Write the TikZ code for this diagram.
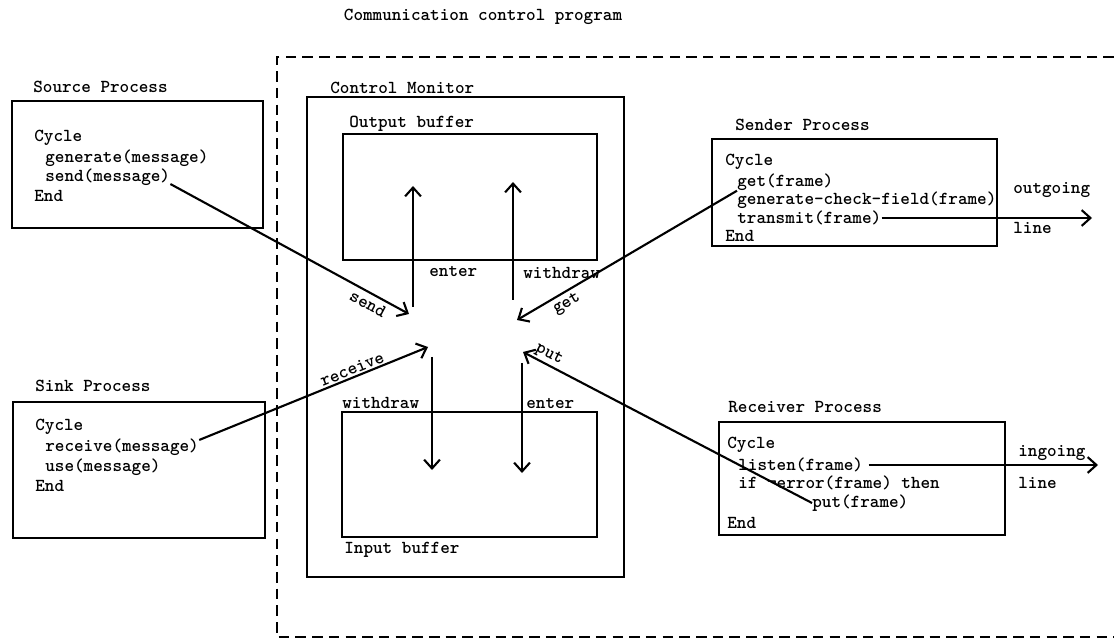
\documentclass[tikz,border=0pt]{standalone}
\usepackage{fontspec}
\usepackage{tikz}
\usetikzlibrary{arrows.meta}

\begin{document}
\begin{tikzpicture}[x=0.02cm, y=-0.02cm,
    txt/.style={font=\ttfamily\bfseries\fontsize{10.4}{12}\selectfont, inner sep=0, anchor=west},
    lbl/.style={font=\ttfamily\bfseries\fontsize{10.4}{12}\selectfont, inner sep=0},
    box/.style={line width=1.1pt},
    arr/.style={line width=1.2pt, -{Straight Barb[length=5pt, width=9pt]}}]
  \useasboundingbox (0,0) rectangle (1114,644);
  \node [lbl] (title) at (483,17) {Communication control program};
  \draw [line width=1.2pt, dash pattern=on 6pt off 3.5pt] (1114,57) -- (277,57) -- (277,637) -- (1114,637);

  % source and sink
  \node [txt] (srcname) at (33,87) {Source Process};
  \draw [box] (12,101) rectangle (263,228);
  \node [txt] (src1) at (34,138) {Cycle};
  \node [txt] (src2) at (45,158) {generate(message)};
  \node [txt] (snd) at (45,177) {send(message)};
  \node [txt] (src4) at (34,196) {End};

  \node [txt] (sinkname) at (35,386) {Sink Process};
  \draw [box] (13,402) rectangle (265,538);
  \node [txt] (sink1) at (35,427) {Cycle};
  \node [txt] (rcv) at (45,447) {receive(message)};
  \node [txt] (sink3) at (45,467) {use(message)};
  \node [txt] (sink4) at (35,486) {End};

  % monitor
  \node [txt] (monname) at (330,88) {Control Monitor};
  \draw [box] (307,97) rectangle (624,577);
  \node [txt] (outname) at (349,124) {Output buffer};
  \draw [box] (343,134) rectangle (597,260);
  \draw [box] (342,412) rectangle (597,537);
  \node [txt] (inname) at (344,550) {Input buffer};

  \coordinate (oenter) at (413,307);
  \coordinate (oenterend) at (413,186);
  \coordinate (owdr) at (513,300);
  \coordinate (owdrend) at (513,182);
  \draw [arr] (oenter) -- (oenterend);
  \draw [arr] (owdr) -- (owdrend);
  \node [txt] (oenterlbl) at (429,271) {enter};
  \node [txt] (owdrlbl) at (523,273) {withdraw};

  \coordinate (iwdr) at (432,357);
  \coordinate (iwdrend) at (432,470);
  \coordinate (ienter) at (522,363);
  \coordinate (ienterend) at (522,473);
  \draw [arr] (iwdr) -- (iwdrend);
  \draw [arr] (ienter) -- (ienterend);
  \node [txt] (iwdrlbl) at (342,403) {withdraw};
  \node [txt] (ienterlbl) at (526,403) {enter};

  % sender and receiver
  \node [txt] (sndrname) at (735,125) {Sender Process};
  \draw [box] (712,139) rectangle (997,246);
  \node [txt] (sndr1) at (725,162) {Cycle};
  \node [txt] (get) at (737,182) {get(frame)};
  \node [txt] (sndr3) at (737,200) {generate-check-field(frame)};
  \node [txt] (tx) at (737,218) {transmit(frame)};
  \node [txt] (sndr5) at (725,236) {End};
  \coordinate (outend) at (1092,218);
  \draw [arr] (tx.east) -- (outend);
  \node [txt] (outlbl) at (1013,190) {outgoing};
  \node [txt] (outline) at (1013,228) {line};

  \node [txt] (rcvrname) at (728,407) {Receiver Process};
  \draw [box] (719,422) rectangle (1005,535);
  \node [txt] (rcvr1) at (727,445) {Cycle};
  \node [txt] (lis) at (738,465) {listen(frame)};
  \node [txt] (rcvr3) at (738,483) {if ¬error(frame) then};
  \node [txt] (put) at (812,503) {put(frame)};
  \node [txt] (rcvr5) at (727,523) {End};
  \coordinate (inend) at (1098,465);
  \draw [arr] ([xshift=3pt]lis.east) -- (inend);
  \node [txt] (inlbl) at (1018,453) {ingoing};
  \node [txt] (inline) at (1018,483) {line};

  % calls into the monitor
  \coordinate (sendtip) at (409,314);
  \coordinate (rcvtip) at (428,347);
  \coordinate (gettip) at (517,320);
  \coordinate (puttip) at (523,352);
  \draw [arr] ([yshift=-4pt]snd.east) -- (sendtip);
  \draw [arr] ([yshift=4pt]rcv.east) -- (rcvtip);
  \draw [arr] (get.south west) -- (gettip);
  \draw [arr] (put.west) -- (puttip);
  \node [lbl, rotate=-28] (sendlbl) at (368,304) {send};
  \node [lbl, rotate=22] (rcvlbl) at (352,369) {receive};
  \node [lbl, rotate=30] (getlbl) at (567,304) {get};
  \node [lbl, rotate=-28] (putlbl) at (549,355) {put};
\end{tikzpicture}
\end{document}
